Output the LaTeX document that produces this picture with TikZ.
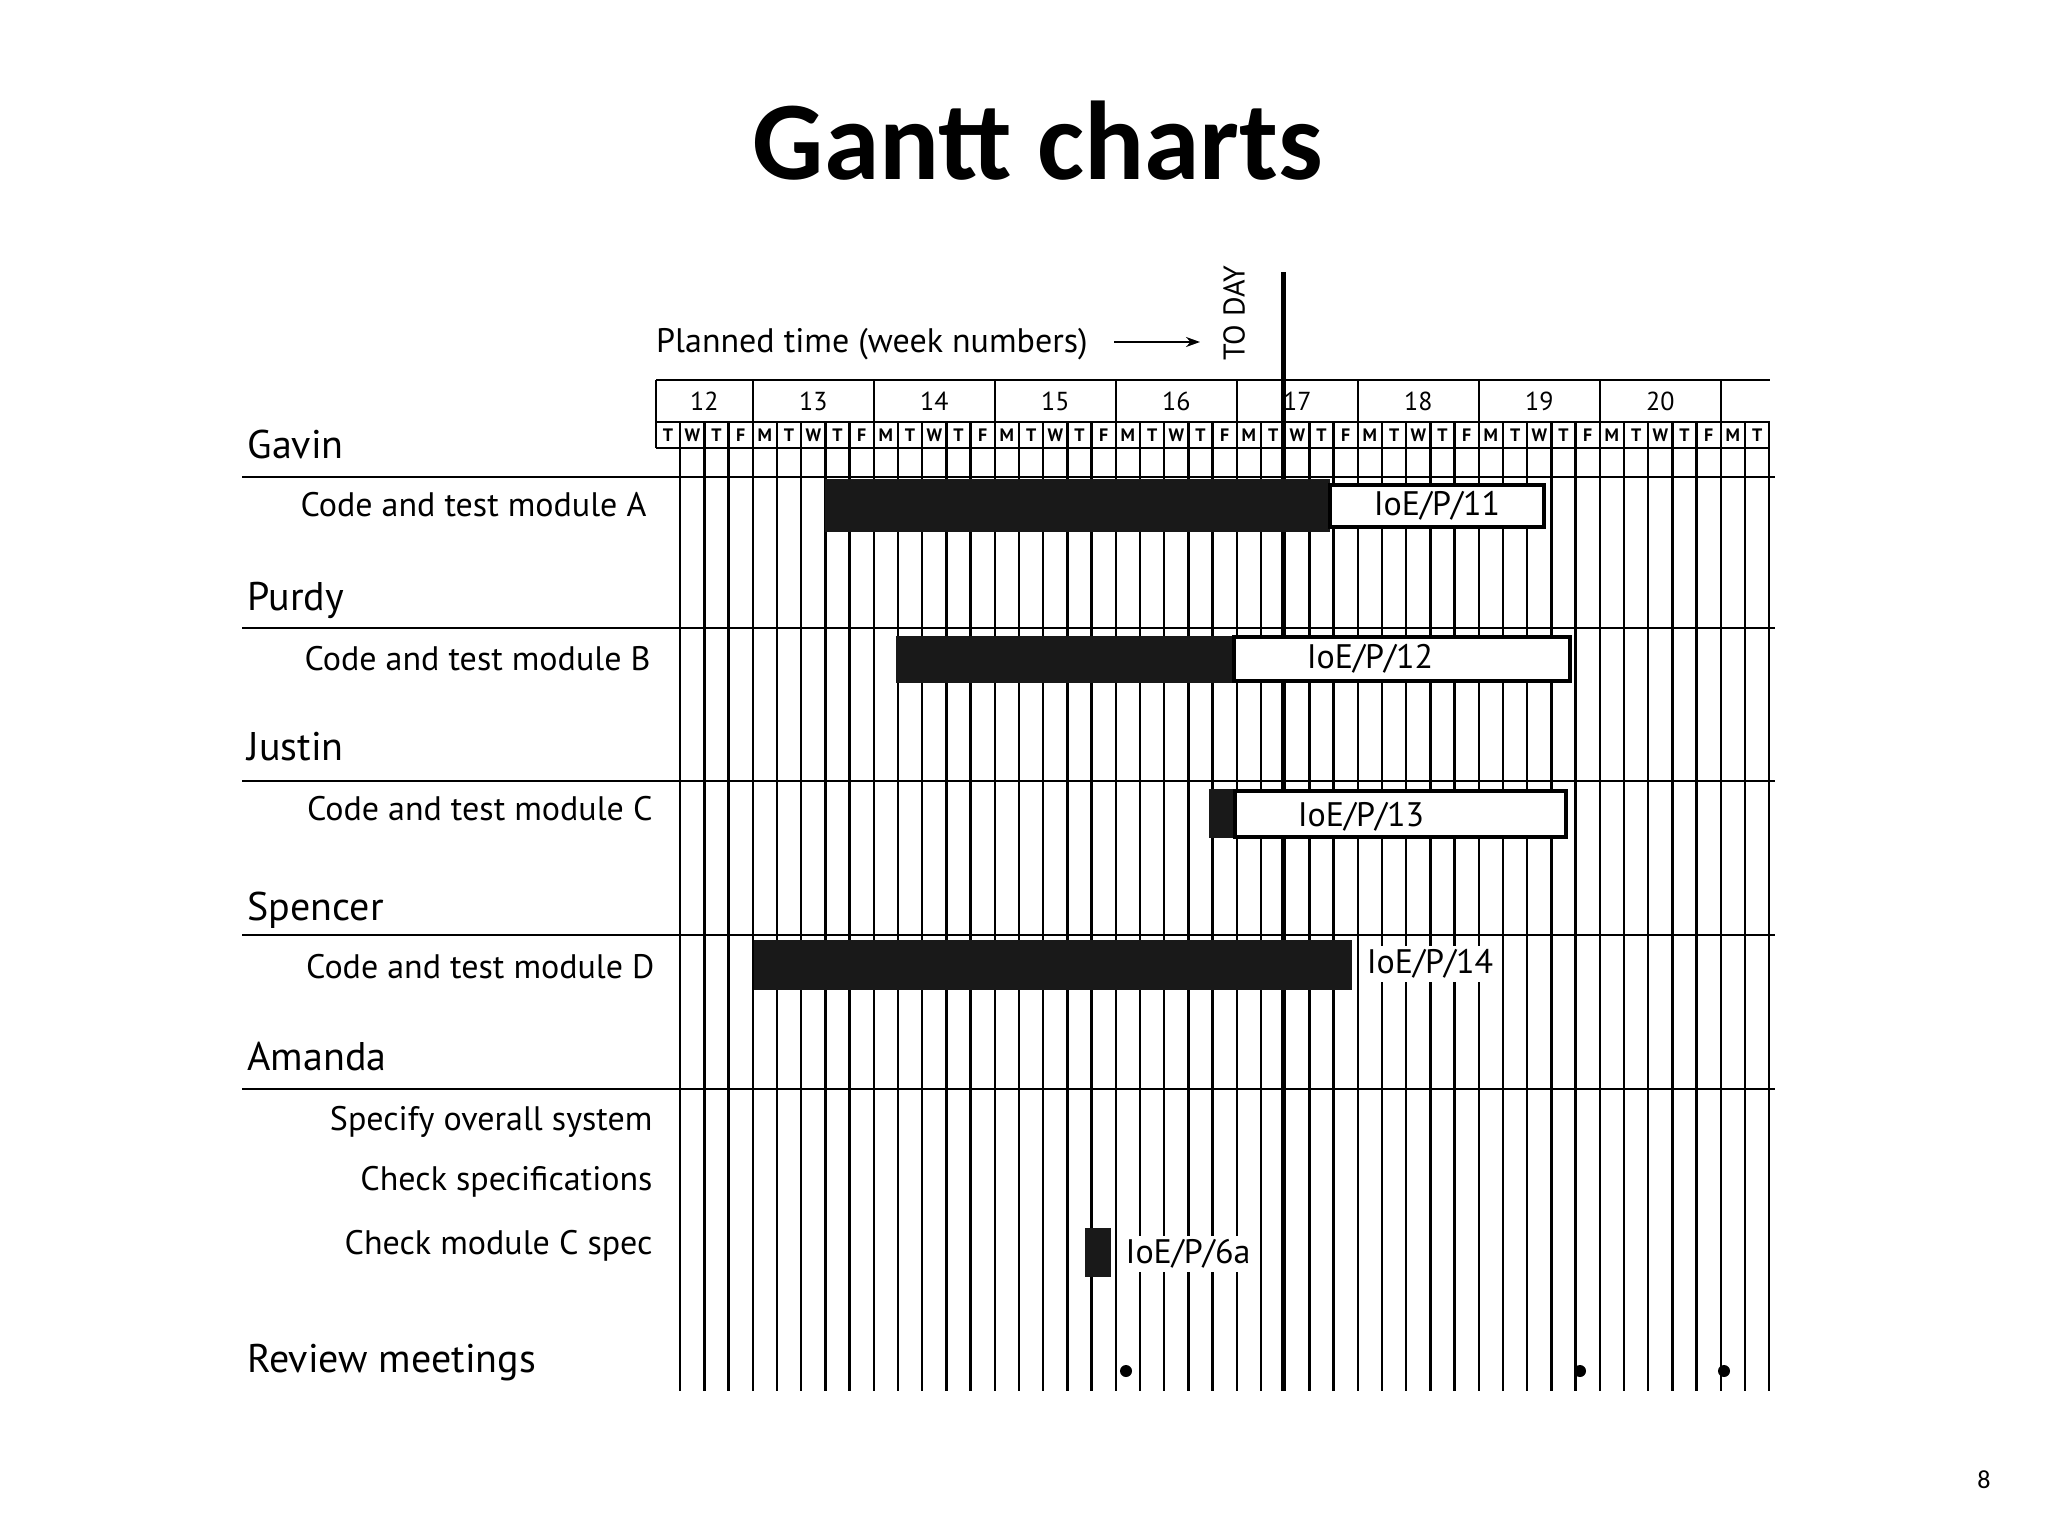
\documentclass[tikz,border=0pt]{standalone}
\usepackage{fontspec}
\setmainfont{PT Sans}
\newfontfamily\titlefont{Carlito}
\usetikzlibrary{arrows.meta}
\begin{document}
\begin{tikzpicture}[x=1pt,y=-1pt,
  grid/.style={line width=2.4pt},
  person/.style={anchor=base west,font=\fontsize{40}{44}\selectfont},
  task/.style={anchor=base east,font=\fontsize{34}{38}\selectfont},
  bar/.style={fill=black!90},
  lbox/.style={draw,line width=4pt,fill=white},
  lbl/.style={font=\fontsize{34}{38}\selectfont},
  wk/.style={font=\fontsize{26}{28}\selectfont},
  dy/.style={font=\bfseries\fontsize{18}{20}\selectfont,inner sep=0pt}]
\useasboundingbox (0,0) rectangle (2048,1536);
\fill[white] (0,0) rectangle (2048,1536);
\node[font=\titlefont\bfseries\fontsize{112}{120}\selectfont] (title) at (1038,141) {Gantt charts};
\node[font=\titlefont\fontsize{26}{28}\selectfont] (pg) at (1984,1480) {8};
% header
\def\dw{24.2}
\draw[grid] (656,380) -- (1770,380);
\draw[grid] (656,422) -- (1770,422);
\draw[grid] (656,448) -- (1770,448);
\foreach \k in {0,4,9,14,19,24,29,34,39,44} \draw[grid] ({656+\k*\dw},380) -- ({656+\k*\dw},422);
\foreach \k in {0,...,46} \draw[grid] ({656+\k*\dw},422) -- ({656+\k*\dw},448);
\foreach \w/\a/\b in {12/0/4,13/4/9,14/9/14,15/14/19,16/19/24,17/24/29,18/29/34,19/34/39,20/39/44}
  \node[wk] (w\w) at ({656+(\a+\b)/2*\dw},401) {\w};
\foreach \d [count=\i from 0] in {T,W,T,F,M,T,W,T,F,M,T,W,T,F,M,T,W,T,F,M,T,W,T,F,M,T,W,T,F,M,T,W,T,F,M,T,W,T,F,M,T,W,T,F,M,T}
  \node[dy] (d\i) at ({656+(\i+0.5)*\dw},435) {\d};
% body verticals
\foreach \k in {1,...,46} \draw[grid] ({656+\k*\dw},448) -- ({656+\k*\dw},1391);
% row lines
\foreach \y in {477,628,781,935,1089} \draw[grid] (242,\y) -- (1775,\y);
% today
\draw[line width=5pt] (1283,272) -- (1283,1391);
\node[rotate=90,font=\fontsize{30}{32}\selectfont] (today) at (1234,313) {TO DAY};
\node[anchor=base west,font=\fontsize{34}{38}\selectfont,inner sep=0pt] (plan) at (656,352) {Planned time (week numbers)};
\coordinate (pa) at (1114,342);
\coordinate (arr) at (1200,342);
\draw[-{Stealth[length=14pt,width=10pt]},line width=2pt] (pa) -- (arr);
% names and tasks
\node[person] (gavin) at (244,458) {Gavin};
\node[task] (ta) at (650,516) {Code and test module A};
\node[person] (purdy) at (244,610) {Purdy};
\node[task] (tb) at (654,670) {Code and test module B};
\node[person] (justin) at (244,760) {Justin};
\node[task] (tc) at (656,820) {Code and test module C};
\node[person] (spencer) at (244,920) {Spencer};
\node[task] (td) at (658,978) {Code and test module D};
\node[person] (amanda) at (244,1070) {Amanda};
\node[task] (t1) at (656,1130) {Specify overall system};
\node[task] (t2) at (656,1190) {Check specifications};
\node[task] (t3) at (656,1254) {Check module C spec};
\node[person] (rev) at (244,1372) {Review meetings};
% bars
\fill[bar] (825,479) rectangle (1330,532);
\node[lbox,minimum width=214pt,minimum height=42pt,inner sep=0pt] (la) at (1437,506) {};
\node[lbl] at (la) {IoE/P/11};
\fill[bar] (896,636) rectangle (1234,683);
\node[lbox,minimum width=336pt,minimum height=44pt,inner sep=0pt] (lb) at (1402,659) {};
\node[lbl] at (1370,659) {IoE/P/12};
\fill[bar] (1209,789) rectangle (1234,838);
\node[lbox,minimum width=331pt,minimum height=46pt,inner sep=0pt] (lc) at (1400,814) {};
\node[lbl] at (1361,817) {IoE/P/13};
\fill[bar] (754,940) rectangle (1352,990);
\node[lbl,fill=white,inner sep=4pt] (ld) at (1430,964) {IoE/P/14};
\fill[bar] (1085,1228) rectangle (1111,1277);
\node[lbl,fill=white,inner sep=4pt] (l6) at (1188,1254) {IoE/P/6a};
% review dots
\foreach \x [count=\i] in {1126,1580,1724} \fill (\x,1371) circle (6pt) coordinate (m\i);
\end{tikzpicture}
\end{document}
